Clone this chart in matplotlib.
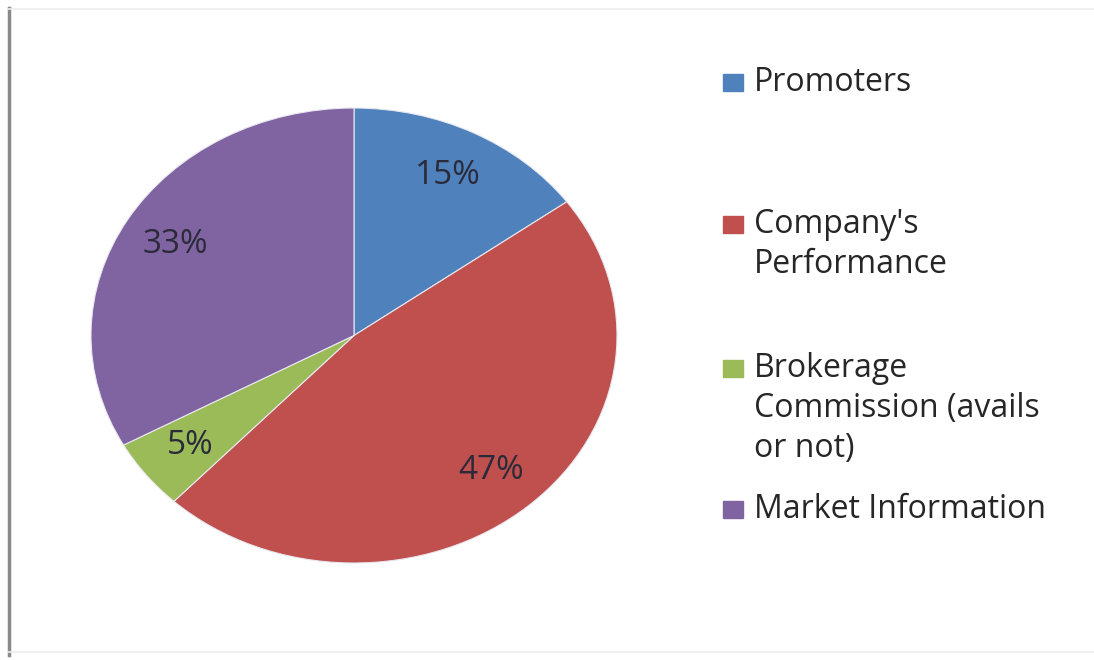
import matplotlib.pyplot as plt
from matplotlib.patches import Rectangle
from matplotlib.lines import Line2D

categories = ["Promoters", "Company's\nPerformance",
              "Brokerage\nCommission (avails\nor not)", "Market Information"]
shares = [15, 47, 5, 33]
colors = ['#4F81BD', '#C0504D', '#9BBB59', '#8064A2']

plt.rcParams['font.family'] = ['Open Sans', 'DejaVu Sans']

W, H = 1094, 660
fig = plt.figure(figsize=(W / 100, H / 100), dpi=100)

# pie drawn stretched (wider than tall), like the original
ax = fig.add_axes([91 / W, 97 / H, 526 / W, 455 / H])
wedges, texts, autotexts = ax.pie(
    shares, colors=colors, startangle=90, counterclock=False,
    autopct='%d%%', pctdistance=0.79, radius=1.0,
    wedgeprops=dict(edgecolor='#e8e8f0', linewidth=0.8),
    textprops=dict(fontsize=24, color='#2a2a3a'))
ax.set_aspect('auto')
ax.set_xlim(-1, 1)
ax.set_ylim(-1, 1)
ax.axis('off')

# legend drawn by hand so the marker sits on the first line of each label
baselines = [91, 233, 377, 518]
for cat, col, b in zip(categories, colors, baselines):
    fig.patches.append(Rectangle((723 / W, 1 - b / H), 20 / W, 17 / H,
                                 transform=fig.transFigure, color=col))
    for i, line in enumerate(cat.split('\n')):
        fig.text(754 / W, 1 - (b + 40 * i) / H, line, fontsize=23, color='#262626',
                 va='baseline', ha='left')

# frame lines of the original screenshot
fig.add_artist(Line2D([8.5 / W, 8.5 / W], [1 - 8 / H, 1 - 655 / H],
                      transform=fig.transFigure, color='#8a8a8a', linewidth=2.5))
fig.add_artist(Line2D([8 / W, 1], [1 - 9 / H, 1 - 9 / H],
                      transform=fig.transFigure, color='#ececec', linewidth=1.2))
fig.add_artist(Line2D([8 / W, 1], [1 - 652 / H, 1 - 652 / H],
                      transform=fig.transFigure, color='#ececec', linewidth=1.2))

fig.savefig('out.png', dpi=100)
